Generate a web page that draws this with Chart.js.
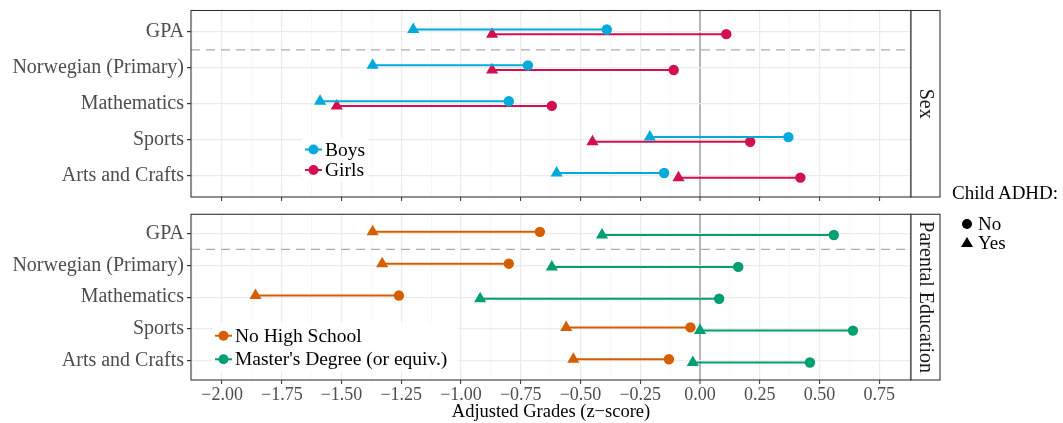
<!DOCTYPE html>
<html>
<head>
<meta charset="utf-8">
<script src="https://cdn.jsdelivr.net/npm/chart.js@4.4.1/dist/chart.umd.min.js"></script>
<style>
  body { margin: 0; background: #fff; font-family: "Liberation Serif", "Times New Roman", serif; }
  #page { position: relative; width: 1063px; height: 423px; overflow: hidden; }
  .cv { position: absolute; left: 0; }
  #adhd { position: absolute; left: 952px; top: 182px; color: #000; font-size: 19px; }
  #adhd .row { position: relative; height: 19px; line-height: 19px; padding-left: 26px; }
  #adhd .dot { position: absolute; left: 10px; top: 5px; width: 10px; height: 10px; border-radius: 50%; background: #000; }
  #adhd .tri { position: absolute; left: 9px; top: 4px; width: 0; height: 0; border-left: 6px solid transparent; border-right: 6px solid transparent; border-bottom: 10px solid #000; }
</style>
</head>
<body>
<div id="page">
  <canvas id="topChart" class="cv" width="1063" height="205" style="top:0"></canvas>
  <canvas id="botChart" class="cv" width="1063" height="218" style="top:205px"></canvas>
  <div id="adhd">
    <div style="margin-bottom:10px">Child ADHD:</div>
    <div class="row"><span class="dot"></span>No</div>
    <div class="row"><span class="tri"></span>Yes</div>
  </div>
</div>
<script>
// categories (top to bottom)
const subjects = ['GPA', 'Norwegian (Primary)', 'Mathematics', 'Sports', 'Arts and Crafts'];

// Sex panel, adjusted grades: ADHD = Yes / No
const boysYes = [-1.20, -1.37, -1.59, -0.21, -0.60];
const boysNo = [-0.39, -0.72, -0.80, 0.37, -0.15];
const girlsYes = [-0.87, -0.87, -1.52, -0.45, -0.09];
const girlsNo = [0.11, -0.11, -0.62, 0.21, 0.42];

// Parental education panel
const noHsYes = [-1.37, -1.33, -1.86, -0.56, -0.53];
const noHsNo = [-0.67, -0.80, -1.26, -0.04, -0.13];
const mastersYes = [-0.41, -0.62, -0.92, 0.00, -0.03];
const mastersNo = [0.56, 0.16, 0.08, 0.64, 0.46];

const xMin = -2.13, xMax = 0.883;
const sepLine = 1.5; // dashed separator between GPA and the subjects

const FONT = '"Liberation Serif", "Times New Roman", serif';
Chart.defaults.font.family = FONT;

function isMajor(v) {
    return Math.abs(Math.round(v * 4) - v * 4) < 1e-6;
}
function fmtTick(v) {
    if (!isMajor(v)) return '';
    return (v < -1e-9 ? '\u2212' : '') + Math.abs(v).toFixed(2);
}

// one line dataset per group and subject: triangle (ADHD yes) to circle (ADHD no)
function dumbbells(yes, no, color, shift) {
    return subjects.map((s, i) => ({
        type: 'line',
        data: [{x: yes[i], y: i + 1 + shift}, {x: no[i], y: i + 1 + shift}],
        borderColor: color,
        borderWidth: 2,
        pointStyle: ['triangle', 'circle'],
        pointRadius: [7, 5.2],
        pointHoverRadius: [7, 5.2],
        pointBackgroundColor: color,
        pointBorderColor: color,
        pointBorderWidth: 0,
        fill: false
    }));
}

function dashedSep() {
    return {
        type: 'line',
        data: [{x: xMin, y: sepLine}, {x: xMax, y: sepLine}],
        borderColor: '#ABABAB',
        borderWidth: 1.2,
        borderDash: [9, 6],
        pointRadius: 0,
        fill: false
    };
}

function xScale(showLabels) {
    return {
        type: 'linear',
        min: xMin,
        max: xMax,
        grid: {
            color: c => c.tick.value === 0 ? '#B5B5B5' : (isMajor(c.tick.value) ? '#EBEBEB' : '#F3F3F3'),
            lineWidth: c => c.tick.value === 0 ? 2 : (isMajor(c.tick.value) ? 1.2 : 0.7),
            tickColor: c => isMajor(c.tick.value) ? '#333333' : 'rgba(0,0,0,0)',
            tickLength: 4,
            tickWidth: 1
        },
        border: {display: false},
        ticks: {
            display: showLabels,
            stepSize: 0.125,
            includeBounds: false,
            autoSkip: false,
            maxTicksLimit: 100,
            maxRotation: 0,
            callback: v => fmtTick(v),
            color: '#4D4D4D',
            font: {size: 18, family: FONT},
            padding: 0
        },
        title: {
            display: showLabels,
            text: 'Adjusted Grades (z\u2212score)',
            color: '#000',
            font: {size: 18.5, family: FONT},
            padding: {top: 0, bottom: 0}
        },
        afterFit: s => {
            s.height = showLabels ? 43 : 8;
            s.paddingLeft = 0; s.paddingRight = 0;
        }
    };
}

function yScale() {
    return {
        type: 'linear',
        min: 0.4,
        max: 5.6,
        reverse: true,
        grid: {color: '#EBEBEB', lineWidth: 1.2, tickColor: '#333333', tickLength: 4},
        border: {display: false},
        ticks: {
            stepSize: 1,
            includeBounds: false,
            autoSkip: false,
            callback: v => subjects[Math.round(v) - 1] || '',
            color: '#4D4D4D',
            font: {size: 20, family: FONT},
            padding: 3
        },
        afterFit: s => {
            s.width = 191;
            s.paddingTop = 0; s.paddingBottom = 0;
        }
    };
}

// panel frame, facet strip on the right and the legend inside the panel
function panelPlugin(stripText, legendItems, legendBox) {
    return {
        id: 'panel',
        afterDraw(chart) {
            const ctx = chart.ctx;
            const a = chart.chartArea;
            ctx.save();
            ctx.strokeStyle = '#333333';
            ctx.lineWidth = 1.1;
            ctx.strokeRect(a.left, a.top, a.right - a.left, a.bottom - a.top);
            // strip
            ctx.fillStyle = '#ffffff';
            ctx.fillRect(a.right, a.top, 29, a.bottom - a.top);
            ctx.strokeRect(a.right, a.top, 29, a.bottom - a.top);
            ctx.translate(a.right + 14.5, (a.top + a.bottom) / 2);
            ctx.rotate(Math.PI / 2);
            ctx.fillStyle = '#1A1A1A';
            ctx.font = '20px ' + FONT;
            ctx.textAlign = 'center';
            ctx.textBaseline = 'middle';
            ctx.fillText(stripText, 0, 0);
            ctx.restore();

            // legend
            ctx.save();
            ctx.fillStyle = '#ffffff';
            ctx.fillRect(legendBox[0], legendBox[1], legendBox[2], legendBox[3]);
            ctx.font = '19.5px ' + FONT;
            ctx.textBaseline = 'middle';
            ctx.textAlign = 'left';
            legendItems.forEach(it => {
                ctx.strokeStyle = it.color;
                ctx.lineWidth = 2;
                ctx.beginPath();
                ctx.moveTo(it.x, it.y);
                ctx.lineTo(it.x + 17, it.y);
                ctx.stroke();
                ctx.fillStyle = it.color;
                ctx.beginPath();
                ctx.arc(it.x + 8.5, it.y, 5, 0, Math.PI * 2);
                ctx.fill();
                ctx.fillStyle = '#000';
                ctx.fillText(it.label, it.x + 20, it.y + 1);
            });
            ctx.restore();
        }
    };
}

const boysColor = '#00AADB';
const girlsColor = '#D3104C';
const noHsColor = '#D55E00';
const mastersColor = '#009E73';

function makeChart(id, datasets, plugin, showLabels, pad) {
    return new Chart(document.getElementById(id), {
        type: 'line',
        data: {datasets: datasets},
        options: {
            responsive: false,
            animation: false,
            layout: {padding: pad},
            plugins: {legend: {display: false}, tooltip: {enabled: false}},
            scales: {x: xScale(showLabels), y: yScale()}
        },
        plugins: [plugin]
    });
}

makeChart('topChart',
    [dashedSep()].concat(dumbbells(boysYes, boysNo, boysColor, -0.07), dumbbells(girlsYes, girlsNo, girlsColor, 0.06)),
    panelPlugin('Sex', [
        {label: 'Boys', color: boysColor, x: 305, y: 149.5},
        {label: 'Girls', color: girlsColor, x: 305, y: 170}
    ], [302, 138, 66, 43]),
    false, {left: 0, right: 152, top: 10.5, bottom: 0});

makeChart('botChart',
    [dashedSep()].concat(dumbbells(noHsYes, noHsNo, noHsColor, -0.05), dumbbells(mastersYes, mastersNo, mastersColor, 0.05)),
    panelPlugin('Parental Education', [
        {label: 'No High School', color: noHsColor, x: 215, y: 130.7},
        {label: "Master's Degree (or equiv.)", color: mastersColor, x: 215, y: 154.3}
    ], [212, 118, 246, 49]),
    true, {left: 0, right: 152, top: 9.3, bottom: 0});
</script>
</body>
</html>
